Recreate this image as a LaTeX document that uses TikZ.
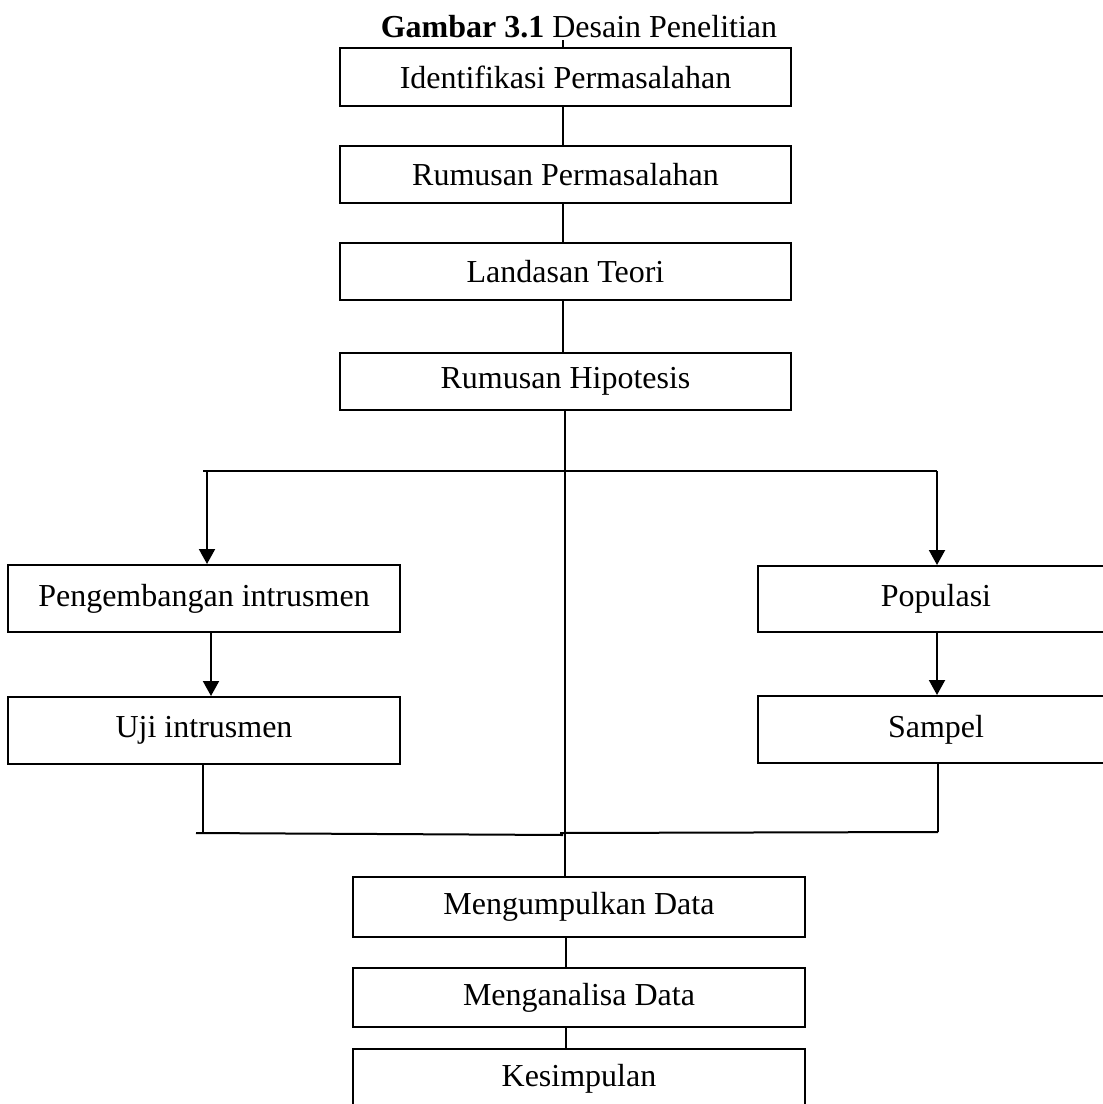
\documentclass[tikz,border=0pt]{standalone}
\usepackage{fontspec}
\setmainfont{Liberation Serif}
\usetikzlibrary{arrows.meta}
\begin{document}
\begin{tikzpicture}[x=1pt,y=-1pt,
  box/.style={draw, line width=2pt, rectangle, inner sep=0pt, font=\fontsize{32}{38}\selectfont},
  conn/.style={line width=2pt},
  arr/.style={line width=2pt, -{Triangle[width=16pt,length=15pt]}}]
\useasboundingbox (0,0) rectangle (1103,1104);
\clip (0,0) rectangle (1103,1104);
\node[font=\fontsize{32}{38}\selectfont, inner sep=0pt] (title) at (579,27) {\textbf{Gambar 3.1} Desain Penelitian};
\node[box, minimum width=451, minimum height=58] (ident) at (565.5,77) {Identifikasi Permasalahan};
\node[box, minimum width=451, minimum height=57] (rum) at (565.5,174.5) {Rumusan Permasalahan};
\node[box, minimum width=451, minimum height=57] (land) at (565.5,271.5) {Landasan Teori};
\node[box, minimum width=451, minimum height=57] (hip) at (565.5,381.5) {Rumusan Hipotesis};
\node[box, minimum width=392, minimum height=67] (peng) at (204,598.5) {Pengembangan intrusmen};
\node[box, minimum width=392, minimum height=67] (uji) at (204,730.5) {Uji intrusmen};
\node[box, minimum width=356, minimum height=66] (pop) at (936,599) {Populasi};
\node[box, minimum width=356, minimum height=67] (samp) at (936,729.5) {Sampel};
\node[box, minimum width=452, minimum height=60] (kump) at (579,907) {Mengumpulkan Data};
\node[box, minimum width=452, minimum height=59] (anal) at (579,997.5) {Menganalisa Data};
\node[box, minimum width=452, minimum height=60] (kes) at (579,1079) {Kesimpulan};
% connectors
\coordinate (t0) at (563,40);
\draw[conn] (t0) -- (t0 |- ident.north);
\coordinate (c1) at (563,0);
\draw[conn] (c1 |- ident.south) -- (c1 |- rum.north);
\draw[conn] (c1 |- rum.south) -- (c1 |- land.north);
\draw[conn] (c1 |- land.south) -- (c1 |- hip.north);
\coordinate (trunk) at (565,0);
\draw[conn] (trunk |- hip.south) -- (trunk |- kump.north);
\coordinate (bl) at (203,471);
\coordinate (br) at (937,471);
\draw[conn] (bl) -- (br);
\coordinate (al) at (207,471);
\draw[arr] (al) -- (al |- peng.north);
\draw[arr] (br) -- (br |- pop.north);
\coordinate (a2) at (211,0);
\draw[arr] (a2 |- peng.south) -- (a2 |- uji.north);
\coordinate (a3) at (937,0);
\draw[arr] (a3 |- pop.south) -- (a3 |- samp.north);
% merge lines
\coordinate (ul) at (203,833);
\coordinate (ml) at (196,833);
\coordinate (mm) at (563,835);
\draw[conn] (ul |- uji.south) -- (ul);
\draw[conn] (ml) -- (mm);
\coordinate (sr) at (938,832);
\coordinate (mr) at (560,833);
\draw[conn] (sr |- samp.south) -- (sr);
\draw[conn] (mr) -- (sr);
\coordinate (c2) at (566,0);
\draw[conn] (c2 |- kump.south) -- (c2 |- anal.north);
\draw[conn] (c2 |- anal.south) -- (c2 |- kes.north);
\end{tikzpicture}
\end{document}
